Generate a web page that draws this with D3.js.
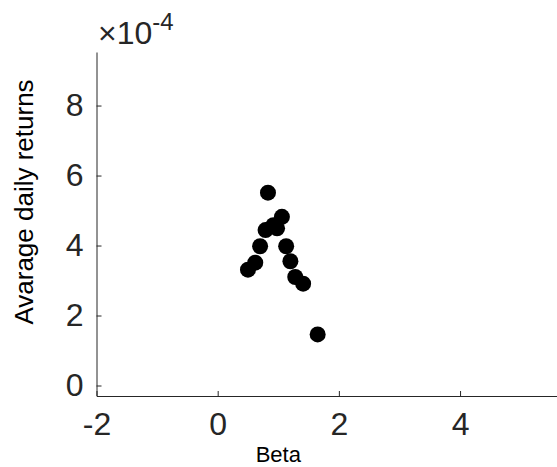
<!DOCTYPE html>
<html><head><meta charset="utf-8">
<script src="https://cdn.jsdelivr.net/npm/d3@7"></script>
<style>body{margin:0;background:#fff;} svg{display:block;font-family:"Liberation Sans",Arial,sans-serif;}</style>
</head><body>
<svg id="c" width="557" height="467"></svg>
<script>
const betaValues = [0.50,0.62,0.70,0.79,0.83,0.92,0.98,1.06,1.13,1.20,1.28,1.41,1.65];
const returnValues = [3.31e-4,3.51e-4,3.98e-4,4.44e-4,5.51e-4,4.58e-4,4.49e-4,4.82e-4,3.98e-4,3.55e-4,3.10e-4,2.91e-4,1.46e-4];
const xTicks = [-2,0,2,4];
const yTicks = [0,2e-4,4e-4,6e-4,8e-4];
const xLabel = "Beta";
const yLabel = "Avarage daily returns";

const svg = d3.select("#c");
const L = 96.5, R = 557, T = 52, B = 396;
const x = d3.scaleLinear().domain([-2, 5.6]).range([L, R]);
const y = d3.scaleLinear().domain([-0.3e-4, 9.53e-4]).range([B, T]);
const axc = "#262626";

const gx = svg.append("g").attr("transform", `translate(0,${B})`)
  .call(d3.axisBottom(x).tickValues(xTicks).tickSizeInner(-5).tickSizeOuter(0).tickPadding(16).tickFormat(d => String(d)));
const gy = svg.append("g").attr("transform", `translate(${L},0)`)
  .call(d3.axisLeft(y).tickValues(yTicks).tickSizeInner(-5).tickSizeOuter(0).tickPadding(13).tickFormat(d => String(Math.round(d * 1e4))));
[gx, gy].forEach(g => {
  g.select(".domain").attr("stroke", axc).attr("stroke-width", 1);
  g.selectAll(".tick line").attr("stroke", axc);
  g.selectAll(".tick text").attr("fill", axc).attr("font-size", 32).attr("font-family", "Liberation Sans, Arial, sans-serif");
});
gx.selectAll(".tick text").attr("dy", "0.71em");

svg.append("text").attr("x", 98).attr("y", 44).attr("fill", axc)
  .attr("font-size", 32).text("×10")
  .append("tspan").attr("font-size", 24).attr("dy", -14).text("-4");

svg.append("text").attr("x", x(1.0)).attr("y", 462).attr("text-anchor", "middle")
  .attr("fill", "#000").attr("font-size", 22).text(xLabel);
svg.append("text").attr("transform", `translate(33,202) rotate(-90)`)
  .attr("text-anchor", "middle").attr("fill", "#000").attr("font-size", 26).text(yLabel);

svg.append("g").selectAll("circle").data(betaValues).join("circle")
  .attr("cx", d => x(d)).attr("cy", (d, i) => y(returnValues[i])).attr("r", 8).attr("fill", "#000");
</script>
</body></html>
